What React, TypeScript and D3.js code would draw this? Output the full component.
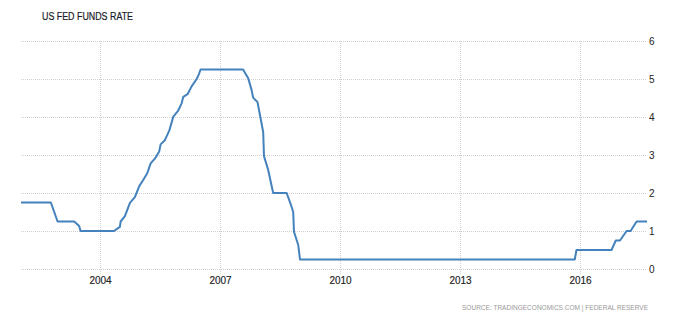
import React from "react";
import * as d3 from "d3";

const title = "US FED FUNDS RATE";
const source = "SOURCE: TRADINGECONOMICS.COM | FEDERAL RESERVE";

const dates: string[] = [
  "2002-01-10", "2002-10-10", "2002-12-10", "2003-05-11", "2003-06-25", "2003-07-08",
  "2004-05-08", "2004-07-01", "2004-07-08", "2004-08-16", "2004-10-01", "2004-11-15",
  "2004-12-25", "2005-01-30", "2005-03-08", "2005-04-08", "2005-05-18", "2005-06-25",
  "2005-07-08", "2005-08-16", "2005-09-25", "2005-11-01", "2005-12-16", "2006-01-16",
  "2006-01-31", "2006-03-11", "2006-04-16", "2006-06-02", "2006-06-23", "2006-07-08",
  "2007-07-31", "2007-09-16", "2007-10-16", "2007-10-31", "2007-12-10", "2008-01-10",
  "2008-01-31", "2008-02-07", "2008-03-16", "2008-05-01", "2008-09-01", "2008-10-16",
  "2008-10-31", "2008-11-07", "2008-12-16", "2009-01-01", "2015-11-15", "2015-12-01",
  "2016-10-16", "2016-11-24", "2017-01-01", "2017-03-03", "2017-04-08", "2017-06-02",
  "2017-09-05",
];

const rates: number[] = [
  1.75, 1.75, 1.25, 1.25, 1.13, 1.0,
  1.0, 1.11, 1.25, 1.39, 1.74, 1.89,
  2.18, 2.34, 2.52, 2.78, 2.91, 3.09,
  3.28, 3.39, 3.64, 4.01, 4.17, 4.36,
  4.53, 4.6, 4.8, 5.0, 5.13, 5.25,
  5.25, 5.02, 4.72, 4.51, 4.39, 3.92,
  3.6, 2.97, 2.61, 2.0, 2.0, 1.64,
  1.5, 0.98, 0.63, 0.25, 0.25, 0.5,
  0.5, 0.75, 0.75, 1.0, 1.0, 1.25,
  1.25,
];

const xTickYears: number[] = [2004, 2007, 2010, 2013, 2016];
const yTicks: number[] = [0, 1, 2, 3, 4, 5, 6];

const W = 690;
const H = 321;

export default function App() {
  const parse = d3.utcParse("%Y-%m-%d");
  const data = dates.map((d, i) => ({ date: parse(d) as Date, value: rates[i] }));

  const x = d3
    .scaleUtc()
    .domain([data[0].date, data[data.length - 1].date])
    .range([21, 647]);
  const y = d3.scaleLinear().domain([0, 6]).range([269, 41]);

  const line = d3
    .line<{ date: Date; value: number }>()
    .x((d) => x(d.date))
    .y((d) => y(d.value));

  const gridColor = "#d0d0d0";
  const font = "'Liberation Sans', Arial, sans-serif";

  return (
    <svg
      width={W}
      height={H}
      style={{ position: "absolute", left: 0, top: 0, background: "#fff" }}
      fontFamily={font}
    >
      <rect x={0} y={0} width={W} height={H} fill="#fff" />
      <text
        x={42}
        y={20}
        fontSize={10}
        fill="#1a1a2a"
        textLength={91}
        lengthAdjust="spacingAndGlyphs"
        stroke="#1a1a2a"
        strokeWidth={0.2}
      >
        {title}
      </text>
      {yTicks.map((t) => (
        <g key={"y" + t}>
          <line
            x1={21}
            x2={646}
            y1={y(t) + 0.5}
            y2={y(t) + 0.5}
            stroke={gridColor}
            strokeWidth={1}
            strokeDasharray="1,1"
          />
          <text x={649} y={y(t) + 3.8} fontSize={10} fill="#222">
            {t}
          </text>
        </g>
      ))}
      {xTickYears.map((yr) => {
        const xp = Math.round(x(new Date(Date.UTC(yr, 0, 1)))) + 0.5;
        return (
          <g key={"x" + yr}>
            <line
              x1={xp}
              x2={xp}
              y1={41}
              y2={275}
              stroke={gridColor}
              strokeWidth={1}
              strokeDasharray="1,1"
            />
            <text
              x={xp}
              y={283.5}
              fontSize={10}
              fill="#222"
              textAnchor="middle"
              stroke="#222"
              strokeWidth={0.15}
            >
              {yr}
            </text>
          </g>
        );
      })}
      <path
        d={line(data) || ""}
        fill="none"
        stroke="#4482bd"
        strokeWidth={2}
        strokeLinejoin="round"
      />
      <text
        x={462}
        y={310}
        fontSize={7.5}
        fill="#999"
        textLength={186}
        lengthAdjust="spacingAndGlyphs"
      >
        {source}
      </text>
    </svg>
  );
}
